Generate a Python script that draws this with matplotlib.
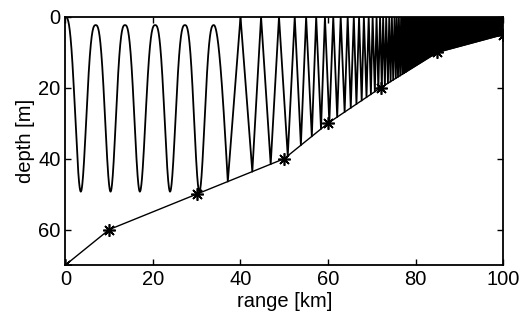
import numpy as np
import matplotlib
matplotlib.use("Agg")
import matplotlib.pyplot as plt

plt.rcParams["font.family"] = ["Liberation Sans", "DejaVu Sans"]

# bottom profile (range km, depth m), marked with asterisks
bathy_r = [0, 10, 30, 50, 60, 72, 85, 100]
bathy_d = [70, 60, 50, 40, 30, 20, 10, 5]

# refracted part of the ray: upper and lower turning points
upper_r = [0.0, 6.9, 13.6, 20.5, 27.3, 33.9]
upper_d = [0.0, 2.3, 2.3, 2.3, 2.3, 2.3]
lower_r = [3.5, 10.3, 17.0, 23.9, 30.6]
lower_d = [49.3, 49.3, 49.3, 49.3, 49.3]

# reflected part: ranges where the ray hits the bottom / the surface
bottom_hit_r = [37.1, 42.7, 46.9, 50.8, 53.8, 56.3, 58.4, 60.3, 62.1, 63.8,
                65.2, 66.5, 67.7, 68.8, 69.8, 70.7, 71.5, 72.3, 73.0, 73.7,
                74.3, 74.9, 75.5, 76.0, 76.5, 77.0, 77.4, 77.8]
surface_hit_r = [40.0, 44.7, 48.8, 52.4, 55.0, 57.3, 59.3, 61.2, 62.9, 64.5,
                 65.9, 67.1, 68.2, 69.3, 70.2, 71.1, 71.9, 72.6, 73.3, 74.0,
                 74.6, 75.2, 75.7, 76.2, 76.7, 77.2, 77.6, 78.0]

fig = plt.figure(figsize=(5.26, 3.2), dpi=100)
ax = fig.add_axes([0.1245, 0.172, 0.8318, 0.775])

s = np.linspace(0, 1, 80)
rx, dy = [], []
# refracting arcs: rounded near the surface, narrow at the lower turning point
for i in range(len(lower_r)):
    r0, d0 = upper_r[i], upper_d[i]
    r1, d1 = lower_r[i], lower_d[i]
    r2, d2 = upper_r[i + 1], upper_d[i + 1]
    g = (1 - np.cos(np.pi * s ** 1.35)) / 2
    rx += list(r0 + (r1 - r0) * s)
    dy += list(d0 + (d1 - d0) * g)
    rx += list(r2 + (r1 - r2) * s[::-1])
    dy += list(d2 + (d1 - d2) * g[::-1])

# last arc bends down onto the bottom, then straight bounces
bd = np.interp(bottom_hit_r, bathy_r, bathy_d)
rx += list(upper_r[-1] + (bottom_hit_r[0] - upper_r[-1]) * s)
dy += list(upper_d[-1] + (bd[0] - upper_d[-1]) * (1 - np.cos(np.pi / 2 * s)))
for b, d, sr in zip(bottom_hit_r, bd, surface_hit_r):
    rx += [b, sr]
    dy += [d, 0]
ax.plot(rx, dy, color="black", lw=1.3)

# too dense to resolve further upslope: solid black
poly_r = [surface_hit_r[-1], 100] + [r for r in bathy_r[::-1] if r > bottom_hit_r[-1]] + [bottom_hit_r[-1]]
poly_d = [0, 0] + [d for r, d in zip(bathy_r[::-1], bathy_d[::-1]) if r > bottom_hit_r[-1]] + [bd[-1]]
ax.fill(poly_r, poly_d, color="black", lw=0.8)

ax.plot(bathy_r, bathy_d, color="black", lw=1.0, marker=(8, 2, 0), ms=9, mew=1.2)

ax.set_xlim(0, 100)
ax.set_ylim(70, 0)
ax.set_xticks(range(0, 101, 20))
ax.set_yticks([0, 20, 40, 60])
ax.tick_params(direction="in", top=True, right=True, length=4, width=1, labelsize=14.5)
for sp in ax.spines.values():
    sp.set_linewidth(1.3)
ax.set_xlabel("range [km]", fontsize=14.5, labelpad=2)
ax.set_ylabel("depth [m]", fontsize=14.5, labelpad=2)

fig.savefig("out.png", dpi=100)
